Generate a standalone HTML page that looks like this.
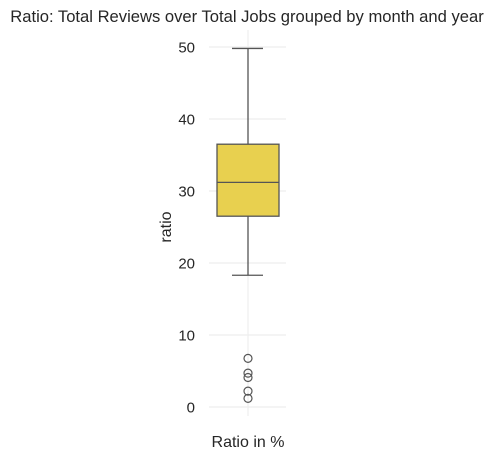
<!DOCTYPE html>
<html><head><meta charset="utf-8"><style>
body{margin:0;background:#fff;}
svg text{font-family:"Liberation Sans",Arial,sans-serif;fill:#262626;}
</style></head><body>
<svg width="495" height="459" viewBox="0 0 495 459" xmlns="http://www.w3.org/2000/svg">
<text x="247" y="22" text-anchor="middle" font-size="16.6">Ratio: Total Reviews over Total Jobs grouped by month and year</text>
<g id="grid"></g>
<g id="ticks"></g>
<line x1="248" x2="248" y1="30" y2="416" stroke="#eee" stroke-width="1.2"/>
<g id="box"></g>
<text x="171" y="227" text-anchor="middle" font-size="16" transform="rotate(-90 171 227)">ratio</text>
<text x="248" y="447" text-anchor="middle" font-size="16">Ratio in %</text>
</svg>
<script>
const yTicks=[0,10,20,30,40,50];
const stats=[18.3,26.5,31.2,36.5,49.8]; // whiskerLow, q1, median, q3, whiskerHigh
const outliers=[6.75,4.7,4.1,2.2,1.2];
const y=v=>407-v*7.2;
const NS="http://www.w3.org/2000/svg";
function mk(tag,attrs,parent){const e=document.createElementNS(NS,tag);for(const k in attrs)e.setAttribute(k,attrs[k]);parent.appendChild(e);return e;}
const grid=document.getElementById('grid'),ticks=document.getElementById('ticks'),box=document.getElementById('box');
yTicks.forEach(t=>{
  const l=mk('line',{x1:209,x2:286,y1:y(t),y2:y(t),stroke:'#eee','stroke-width':1.2},grid);
  
  
  const tx=mk('text',{x:195,y:y(t)+5.5,'text-anchor':'end','font-size':15},ticks);
  tx.textContent=t;
  
  
});
const cx=248,st='#555';
const wl=mk('line',{x1:cx,x2:cx,y1:y(stats[0]),y2:y(stats[1]),stroke:st,'stroke-width':1.3},box);


const wh=mk('line',{x1:cx,x2:cx,y1:y(stats[4]),y2:y(stats[3]),stroke:st,'stroke-width':1.3},box);


const c1=mk('line',{x1:232,x2:263,y1:y(stats[0]),y2:y(stats[0]),stroke:st,'stroke-width':1.3},box);


const c2=mk('line',{x1:232,x2:263,y1:y(stats[4]),y2:y(stats[4]),stroke:st,'stroke-width':1.3},box);


const r=mk('rect',{x:217,y:y(stats[3]),width:62,height:y(stats[1])-y(stats[3]),fill:'#e8d04f',stroke:st,'stroke-width':1.3},box);


const m=mk('line',{x1:217,x2:279,y1:y(stats[2]),y2:y(stats[2]),stroke:st,'stroke-width':1.3},box);


outliers.forEach(v=>{
  const c=mk('circle',{cx:cx,cy:y(v),r:4,fill:'none',stroke:st,'stroke-width':1.2},box);
  
  
});
</script>
</body></html>
